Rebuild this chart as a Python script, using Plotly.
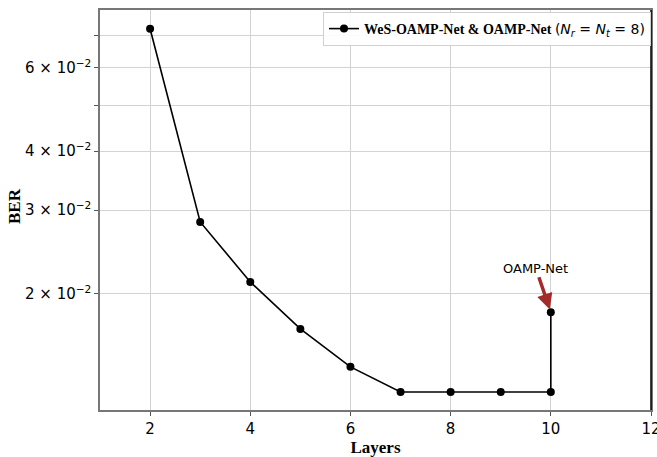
import numpy as np
import plotly.graph_objects as go

layers = [2, 3, 4, 5, 6, 7, 8, 9, 10, 10]
ber = [0.0725, 0.02834, 0.02117, 0.01685, 0.01401, 0.01240, 0.01240, 0.01240, 0.01240, 0.01827]
y_tickvals = [0.02, 0.03, 0.04, 0.06]
y_ticktext = ["2\u00a0×\u00a010<sup>−2</sup>", "3\u00a0×\u00a010<sup>−2</sup>",
              "4\u00a0×\u00a010<sup>−2</sup>", "6\u00a0×\u00a010<sup>−2</sup>"]
y_minorvals = [0.05, 0.07]
x_tickvals = [2, 4, 6, 8, 10, 12]
legend_name = ("<b>WeS-OAMP-Net &amp; OAMP-Net</b> "
               "<span style='font-family:DejaVu Sans'>(<i>N</i><sub><i>r</i></sub> = "
               "<i>N</i><sub><i>t</i></sub> = 8)</span>")

fig = go.Figure()
fig.add_trace(go.Scatter(
    x=layers, y=ber, mode="lines+markers", name=legend_name,
    line=dict(color="black", width=1.6),
    marker=dict(color="black", size=8),
))

fig.add_annotation(
    x=10, y=np.log10(ber[-1]), xref="x", yref="y",
    text="OAMP-Net", showarrow=True, ax=-15, ay=-44,
    arrowhead=2, arrowsize=0.9, arrowwidth=3.5, arrowcolor="#a52a2a",
    standoff=3, font=dict(family="DejaVu Sans", size=13, color="black"),
)

# y-axis title placed as rotated text
fig.add_annotation(
    x=-0.156, y=0.51, xref="paper", yref="paper", text="<b>BER</b>",
    textangle=-90, showarrow=False, xanchor="center", yanchor="middle",
    font=dict(family="Liberation Serif", size=17, color="black"),
)

fig.add_shape(type="line", xref="paper", yref="paper", x0=1, x1=1, y0=0, y1=1,
              line=dict(color="black", width=1.5))

fig.update_layout(
    width=657, height=457,
    margin=dict(l=100, r=6, t=10, b=47, autoexpand=False),
    plot_bgcolor="white", paper_bgcolor="white",
    showlegend=True,
    legend=dict(x=1.0, y=0.995, xanchor="right", yanchor="top",
                bgcolor="rgba(255,255,255,0.9)", bordercolor="#d0d0d0", borderwidth=1,
                font=dict(family="Liberation Serif", size=14, color="black"),
                itemwidth=30),
    font=dict(family="DejaVu Sans", color="black"),
)
fig.update_xaxes(
    range=[1, 12], tickvals=x_tickvals, ticks="outside", ticklen=4,
    tickcolor="#555", showgrid=True, gridcolor="#d3d3d3", gridwidth=1,
    showline=True, linecolor="#777", linewidth=1.5, mirror=True,
    ticklabeloverflow="allow",
    tickfont=dict(family="DejaVu Sans", size=15), zeroline=False,
    title=dict(text="<b>Layers</b>", font=dict(family="Liberation Serif", size=17), standoff=4),
)
fig.update_yaxes(
    type="log", range=[np.log10(0.01136), np.log10(0.0794)],
    tickvals=y_tickvals, ticktext=y_ticktext, ticks="outside", ticklen=4,
    tickcolor="#555", showgrid=True, gridcolor="#d3d3d3", gridwidth=1,
    minor=dict(tickvals=y_minorvals, ticks="outside", ticklen=4, tickcolor="#555",
               showgrid=True, gridcolor="#d3d3d3", gridwidth=1),
    showline=True, linecolor="#777", linewidth=1.5, mirror=True,
    tickfont=dict(family="DejaVu Sans", size=15), zeroline=False,
)

fig.write_html("out.html")
